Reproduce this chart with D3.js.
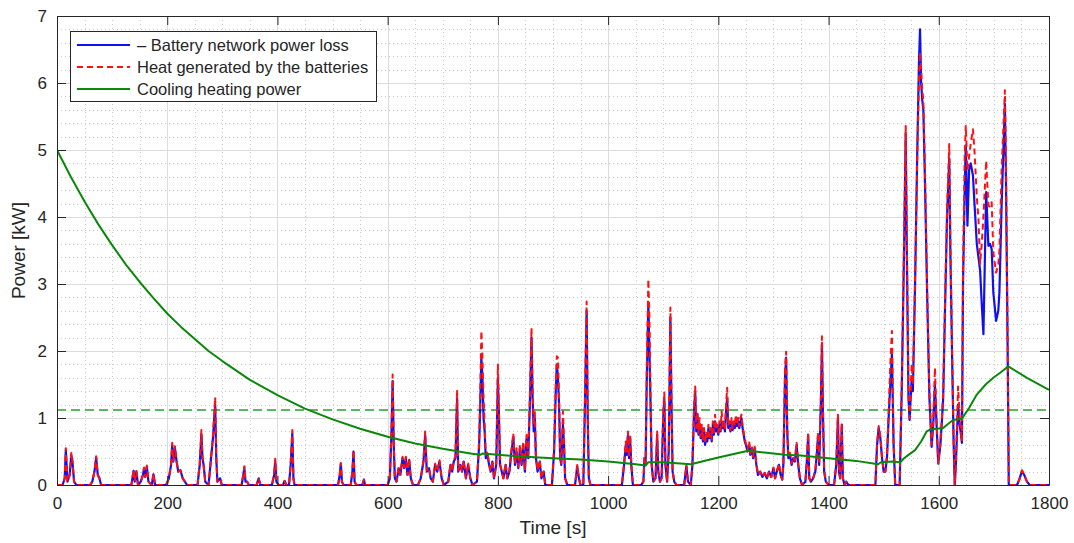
<!DOCTYPE html>
<html>
<head>
<meta charset="utf-8">
<script src="https://cdn.jsdelivr.net/npm/d3@7"></script>
<style>
  html, body { margin: 0; padding: 0; background: #fff; }
  svg { display: block; font-family: "Liberation Sans", Arial, Helvetica, sans-serif; }
</style>
</head>
<body>
<svg id="chart" width="1074" height="543"></svg>
<script>
// ---- Battery power loss (blue), heat generated (red), sampled on the same time base [s] / [kW]
const timeS = [
  0,10,14,16,19,23,26,28,31,35,60,64,68,71,74,77,80,
  135,139,141,144,147,152,156,158,160,163,166,172,175,178,198,203,207,209,211,214,217,220,224,228,232,236,
  255,259,262,264,266,269,275,279,283,287,289,291,296,299,335,338,340,342,345,348,362,366,369,390,394,396,398,402,410,413,416,421,424,427,429,431,
  510,513,515,517,520,533,536,538,540,543,554,557,559,600,604,607,609,611,613,616,620,623,627,630,633,636,639,642,646,
  655,660,665,668,671,675,678,682,686,690,694,698,702,710,714,717,720,723,726,728,732,735,738,742,746,750,754,
  762,766,768,770,772,774,776,778,781,784,787,790,793,797,800,802,804,807,810,814,817,821,824,828,831,834,837,840,843,846,849,852,855,858,861,863,865,867,869,872,876,879,883,886,
  898,902,905,907,909,911,913,915,918,920,922,926,940,944,947,950,955,958,961,963,965,968,
  1025,1029,1032,1034,1036,1038,1040,1042,1045,1060,1064,1066,1068,1070,1073,1075,1077,1079,1082,1086,1089,1091,1094,1097,1100,1102,1104,1107,1110,1113,1115,1117,1120,1124,1138,1142,1145,1150,
  1153,1156,1158,1160,
  1162,1164,1166,1168,1170,1172,1174,1176,1178,1180,1182,1184,1186,1188,1190,1192,1194,1196,1198,1200,1202,1204,1206,1208,1210,1212,1214,1216,1218,1220,1222,1224,1226,1228,1230,1232,1234,1236,1238,1240,1242,1244,1246,1248,1250,
  1253,1256,1258,1261,1263,1266,1269,1272,1276,1280,1284,1288,1292,1296,1300,1303,1306,1310,1313,1316,1318,1321,1323,1325,1327,1330,1333,1336,1339,1342,1345,1348,1352,1358,1361,1363,1365,1368,1372,1376,1379,1381,1383,1386,1388,1390,1392,1395,1400,1410,1414,1417,1419,1421,1424,1426,1429,1432,1436,
  1485,1488,1491,1494,1497,1500,1503,1506,1509,1512,1515,1518,1521,1529,1533,1537,1540,1542,1545,1547,1549,1551,1553,1557,1561,1564,1566,1568,1570,1572,1575,1579,1583,1587,1590,1593,1596,1599,1603,1606,1608,1611,1615,1619,1621,1624,1627,1629,1631,1635,1638,1642,1644,1647,1649,1652,1655,1658,1662,1665,1669,1672,1675,1678,1681,1686,1690,1693,1696,1699,1704,1708,1710,1714,1720,1722,1725,1727,1742,1746,1751,1755,1760,1765,1800
];

const lossKW = [
  0,0,0.1,0.52,0.05,0.15,0.45,0.35,0.05,0,0,0.05,0.2,0.41,0.15,0.1,0,
  0,0.21,0.05,0.2,0,0.05,0.15,0.25,0.12,0.27,0.05,0,0.16,0,0,0.1,0.3,0.6,0.35,0.55,0.35,0.2,0.22,0.1,0.05,0,
  0,0.3,0.76,0.4,0.3,0.05,0,0.35,0.7,1.2,0.4,0.05,0.1,0,0,0.15,0.26,0.05,0.05,0,0,0.1,0,0,0.15,0.36,0.05,0,0,0.06,0,0,0.3,0.77,0.1,0,
  0,0.15,0.32,0.05,0,0,0.2,0.5,0.05,0,0,0.08,0,0,0.1,0.8,1.55,0.6,0.1,0.05,0.25,0.15,0.4,0.25,0.4,0.15,0.37,0.1,0,
  0,0.1,0.35,0.75,0.2,0.25,0.1,0.05,0.3,0.2,0.35,0.1,0,0.05,0.3,0.2,0.35,0.4,1.3,0.2,0.3,0.2,0.35,0.1,0.3,0.1,0,
  0.05,0.6,1.2,1.9,1.6,1.0,0.8,0.4,0.45,0.3,0.2,0.35,0.1,0.3,1.6,1.0,0.3,0.2,0.1,0.3,0.1,0.2,0.45,0.72,0.3,0.5,0.25,0.55,0.3,0.6,0.2,0.7,0.4,1.2,2.2,1.3,0.8,1.0,0.4,0.2,0.35,0.1,0.2,0,
  0,0.5,1.4,1.8,1.6,1.2,0.4,0.3,0.9,0.6,0.1,0,0,0.28,0.1,0,0,1.2,2.6,1.0,0.1,0,
  0,0.3,0.6,0.45,0.75,0.4,0.7,0.3,0,0,0.05,0.4,0.3,1.5,2.7,2.0,1.2,0.3,0.05,0.1,0.75,0.2,0.05,0.1,1.0,1.3,0.3,0.05,0.5,2.5,1.2,0.2,0.05,0,0,0.28,0.05,0,
  0.3,1.1,1.4,0.8,
  1.05,0.75,0.9,0.7,0.85,0.65,0.8,0.6,0.75,0.65,0.85,0.7,0.8,0.65,0.9,0.75,0.95,0.8,0.85,0.75,0.9,0.8,0.95,0.85,0.9,0.8,1.1,1.3,0.85,0.9,0.8,0.95,0.82,0.9,0.85,1.0,0.88,0.95,0.85,0.95,1.0,0.85,0.75,0.65,0.6,
  0.5,0.6,0.45,0.55,0.4,0.55,0.3,0.15,0.2,0.12,0.18,0.1,0.2,0.12,0.25,0.1,0.2,0.3,0.15,0.08,0.3,1.6,1.9,0.8,0.4,0.45,0.3,0.4,0.35,0.6,0.3,0.1,0,0.05,0.4,0.75,0.1,0.05,0.1,0.2,0.5,0.75,0.3,1.2,2.1,1.0,0.2,0.05,0,0,0.3,1.0,0.2,0.1,0.9,0.1,0,0.05,0,
  0,0.6,0.85,0.7,0.4,0.2,0.2,0.4,1.0,1.5,1.95,0.6,0,0,1.5,3.5,5.25,3.5,1.3,0.97,1.3,1.6,1.4,3.0,5.0,6.3,6.8,6.0,5.75,5.6,4.5,2.8,1.3,0.57,0.9,1.5,0.9,0.32,0.6,1.0,1.3,2.5,4.0,4.87,3.5,2.0,0.6,0,0.3,1.2,0.9,0.63,3.0,4.41,5.07,3.87,4.7,4.8,4.62,4.17,3.6,3.4,3.2,2.7,2.25,4.37,3.57,3.6,3.52,2.87,2.45,2.6,2.87,4.17,5.69,4.5,2.0,0,0,0.08,0.21,0.15,0.05,0,0
];

const heatKW = [
  0,0,0.1,0.55,0.05,0.15,0.48,0.36,0.05,0,0,0.05,0.2,0.43,0.15,0.1,0,
  0,0.23,0.05,0.21,0,0.05,0.15,0.26,0.12,0.29,0.05,0,0.17,0,0,0.1,0.32,0.63,0.36,0.58,0.36,0.2,0.22,0.1,0.05,0,
  0,0.32,0.82,0.42,0.3,0.05,0,0.37,0.75,1.31,0.42,0.05,0.1,0,0,0.15,0.28,0.05,0.05,0,0,0.1,0,0,0.16,0.39,0.05,0,0,0.06,0,0,0.32,0.82,0.1,0,
  0,0.15,0.33,0.05,0,0,0.2,0.52,0.05,0,0,0.08,0,0,0.1,0.85,1.65,0.65,0.1,0.05,0.27,0.15,0.42,0.26,0.42,0.15,0.39,0.1,0,
  0,0.1,0.37,0.8,0.22,0.26,0.1,0.05,0.32,0.2,0.37,0.1,0,0.05,0.32,0.2,0.37,0.42,1.42,0.22,0.32,0.2,0.37,0.1,0.32,0.1,0,
  0.05,0.65,1.4,2.3,1.9,1.3,0.9,0.45,0.5,0.32,0.2,0.37,0.1,0.32,1.8,1.1,0.32,0.2,0.1,0.32,0.1,0.22,0.48,0.77,0.32,0.55,0.27,0.6,0.32,0.65,0.22,0.75,0.45,1.35,2.35,1.45,0.9,1.1,0.45,0.22,0.37,0.1,0.2,0,
  0,0.55,1.5,1.92,1.9,1.3,0.45,0.32,1.1,0.65,0.1,0,0,0.3,0.1,0,0,1.3,2.74,1.1,0.1,0,
  0,0.32,0.65,0.5,0.8,0.42,0.75,0.32,0,0,0.05,0.42,0.32,1.7,3.07,2.5,1.37,0.32,0.05,0.1,0.8,0.22,0.05,0.1,1.1,1.38,0.32,0.05,0.55,2.65,1.3,0.22,0.05,0,0,0.3,0.05,0,
  0.32,1.2,1.47,0.85,
  1.1,0.78,1.0,0.72,0.9,0.68,0.85,0.62,0.8,0.68,0.9,0.72,0.85,0.68,0.95,0.78,1.05,0.82,0.9,0.78,0.95,0.82,1.1,0.88,0.95,0.82,1.2,1.45,0.88,0.95,0.82,1.0,0.85,0.95,0.88,1.05,0.9,1.0,0.88,1.0,1.05,0.88,0.78,0.68,0.62,
  0.52,0.65,0.47,0.58,0.42,0.57,0.32,0.15,0.2,0.12,0.18,0.1,0.2,0.12,0.26,0.1,0.2,0.32,0.15,0.08,0.32,1.75,1.99,0.9,0.42,0.48,0.32,0.42,0.37,0.63,0.32,0.1,0,0.05,0.42,0.78,0.1,0.05,0.1,0.22,0.52,0.78,0.32,1.3,2.22,1.1,0.22,0.05,0,0,0.32,1.05,0.22,0.1,0.92,0.1,0,0.05,0,
  0,0.62,0.88,0.72,0.42,0.2,0.2,0.45,1.1,1.8,2.3,0.65,0,0,1.6,3.7,5.36,3.7,1.4,1.0,1.4,1.8,1.5,3.1,4.9,6.0,6.46,6.2,5.9,5.75,4.7,2.9,1.4,0.6,1.0,1.75,1.0,0.32,0.65,1.05,1.4,2.6,4.1,5.09,3.7,2.1,0.65,0,0.32,1.47,1.0,0.65,3.2,4.9,5.36,4.7,4.9,5.1,5.31,4.96,4.3,3.97,3.3,3.6,4.0,4.84,4.17,4.15,4.22,3.47,3.17,3.3,3.5,4.7,5.89,4.8,2.1,0,0,0.08,0.22,0.15,0.05,0,0
];

// ---- Cooling / heating power
const coolTimeS = [0,25,50,75,100,125,150,175,200,225,250,275,300,350,400,450,500,550,600,650,700,750,768,772,800,850,900,950,1000,1050,1068,1073,1100,1150,1200,1254,1300,1321,1350,1400,1450,1490,1495,1515,1530,1537,1545,1557,1568,1578,1585,1608,1615,1626,1642,1655,1669,1685,1699,1712,1726,1760,1800];
const coolKW    = [5.0,4.6,4.23,3.89,3.58,3.29,3.03,2.79,2.56,2.36,2.18,2.0,1.85,1.57,1.34,1.14,0.98,0.84,0.72,0.62,0.54,0.47,0.45,0.47,0.45,0.42,0.4,0.38,0.35,0.31,0.29,0.34,0.34,0.31,0.41,0.51,0.47,0.45,0.44,0.4,0.36,0.31,0.34,0.35,0.34,0.4,0.45,0.52,0.65,0.8,0.83,0.85,0.9,0.97,0.99,1.15,1.35,1.5,1.6,1.68,1.77,1.6,1.42];

// ---- Reference level and axes
const refLevelKW = 1.12;
const xTicks = [0,200,400,600,800,1000,1200,1400,1600,1800];
const yTicks = [0,1,2,3,4,5,6,7];
const legendLabels = ["\u2013 Battery network power loss", "Heat generated by the batteries", "Cooling heating power"];

const margin = { left: 57, top: 16, right: 25, bottom: 58 };
const W = 1074, H = 543;
const pw = W - margin.left - margin.right;   // 992
const ph = H - margin.top - margin.bottom;   // 469

const svg = d3.select("#chart");
svg.append("rect").attr("width", W).attr("height", H).attr("fill", "#fff");

const x = d3.scaleLinear().domain([0, 1800]).range([0, pw]);
const y = d3.scaleLinear().domain([0, 7]).range([ph, 0]);

const g = svg.append("g").attr("transform", `translate(${margin.left},${margin.top})`);

// minor grid (dotted)
const xMinor = d3.range(0, 1801, 50).filter(v => v % 200 !== 0);
const yMinor = d3.range(0, 35).map(i => +(i * 0.2).toFixed(1)).filter(v => Math.abs(v - Math.round(v)) > 1e-6);
g.append("g").selectAll("line").data(xMinor).join("line")
  .attr("x1", d => Math.round(x(d)) + 0.5).attr("x2", d => Math.round(x(d)) + 0.5)
  .attr("y1", 0).attr("y2", ph)
  .attr("stroke", "#c9c9c9").attr("stroke-width", 1).attr("stroke-dasharray", "1,3");
g.append("g").selectAll("line").data(yMinor).join("line")
  .attr("y1", d => Math.round(y(d)) + 0.5).attr("y2", d => Math.round(y(d)) + 0.5)
  .attr("x1", 0).attr("x2", pw)
  .attr("stroke", "#c9c9c9").attr("stroke-width", 1).attr("stroke-dasharray", "1,3");

// major grid
g.append("g").selectAll("line").data(xTicks).join("line")
  .attr("x1", d => Math.round(x(d)) + 0.5).attr("x2", d => Math.round(x(d)) + 0.5)
  .attr("y1", 0).attr("y2", ph)
  .attr("stroke", "#dcdcdc").attr("stroke-width", 1);
g.append("g").selectAll("line").data(yTicks).join("line")
  .attr("y1", d => Math.round(y(d)) + 0.5).attr("y2", d => Math.round(y(d)) + 0.5)
  .attr("x1", 0).attr("x2", pw)
  .attr("stroke", "#dcdcdc").attr("stroke-width", 1);

// clip
svg.append("defs").append("clipPath").attr("id", "plotClip")
  .append("rect").attr("x", 0).attr("y", -2).attr("width", pw).attr("height", ph + 2);
const plot = g.append("g").attr("clip-path", "url(#plotClip)");

const lineOf = (ts, vs) => d3.line().x((d, i) => x(ts[i])).y(d => y(d))(vs);

// reference level (dashed light green)
plot.append("line")
  .attr("x1", 0).attr("x2", pw)
  .attr("y1", y(refLevelKW)).attr("y2", y(refLevelKW))
  .attr("stroke", "#5cb85c").attr("stroke-width", 2).attr("stroke-dasharray", "9,5");

// battery power loss (solid blue)
plot.append("path").attr("d", lineOf(timeS, lossKW))
  .attr("fill", "none").attr("stroke", "#1010f0").attr("stroke-width", 2.2)
  .attr("stroke-linejoin", "round");

// heat generated (dashed red)
plot.append("path").attr("d", lineOf(timeS, heatKW))
  .attr("fill", "none").attr("stroke", "#ff1010").attr("stroke-width", 2)
  .attr("stroke-dasharray", "6,4").attr("stroke-linejoin", "round");

// cooling / heating power (solid green)
plot.append("path").attr("d", lineOf(coolTimeS, coolKW))
  .attr("fill", "none").attr("stroke", "#0a880a").attr("stroke-width", 2)
  .attr("stroke-linejoin", "round");

// axes box with inward ticks on all sides
const axisColor = "#262626";
const tickLen = 9;
const fmt = d3.format("d");
const axB = g.append("g").attr("transform", `translate(0,${ph})`)
  .call(d3.axisBottom(x).tickValues(xTicks).tickFormat(fmt).tickSizeInner(-tickLen).tickSizeOuter(0).tickPadding(12));
const axT = g.append("g")
  .call(d3.axisTop(x).tickValues(xTicks).tickSizeInner(-tickLen).tickSizeOuter(0).tickFormat(""));
const axL = g.append("g")
  .call(d3.axisLeft(y).tickValues(yTicks).tickFormat(fmt).tickSizeInner(-tickLen).tickSizeOuter(0).tickPadding(10));
const axR = g.append("g").attr("transform", `translate(${pw},0)`)
  .call(d3.axisRight(y).tickValues(yTicks).tickSizeInner(-tickLen).tickSizeOuter(0).tickFormat(""));
[axB, axT, axL, axR].forEach(a => {
  a.select(".domain").attr("stroke", axisColor);
  a.selectAll(".tick line").attr("stroke", axisColor);
  a.selectAll(".tick text").attr("fill", "#262626")
    .style("font-family", '"Liberation Sans", Arial, sans-serif').style("font-size", "17px");
});

// axis titles
svg.append("text")
  .attr("x", margin.left + pw / 2).attr("y", 534)
  .attr("text-anchor", "middle").attr("fill", "#262626")
  .style("font-size", "19px").text("Time [s]");
svg.append("text")
  .attr("transform", `translate(25,${margin.top + ph / 2}) rotate(-90)`)
  .attr("text-anchor", "middle").attr("fill", "#262626")
  .style("font-size", "19px").text("Power [kW]");

// legend
const lg = svg.append("g").attr("transform", "translate(70,31)");
lg.append("rect").attr("x", 0.5).attr("y", 0.5).attr("width", 306).attr("height", 70)
  .attr("fill", "#fff").attr("stroke", axisColor).attr("stroke-width", 1);
const legendStyles = [
  { color: "#1010f0", dash: null },
  { color: "#ff1010", dash: "6,4" },
  { color: "#0a880a", dash: null }
];
legendLabels.forEach((label, i) => {
  const cy = 14 + i * 22;
  const l = lg.append("line").attr("x1", 7).attr("x2", 60).attr("y1", cy).attr("y2", cy)
    .attr("stroke", legendStyles[i].color).attr("stroke-width", 2);
  if (legendStyles[i].dash) l.attr("stroke-dasharray", legendStyles[i].dash);
  lg.append("text").attr("x", 67).attr("y", cy + 6)
    .attr("fill", "#262626").style("font-size", "16.5px").text(label);
});
</script>
</body>
</html>
